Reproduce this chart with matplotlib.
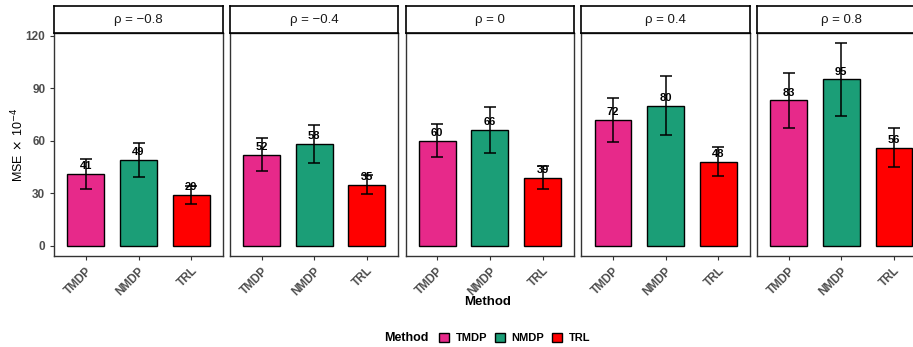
import numpy as np
import matplotlib
matplotlib.use("Agg")
import matplotlib.pyplot as plt
from matplotlib.patches import Patch

plt.rcParams['font.family'] = ['Liberation Sans', 'DejaVu Sans']

methods = ["TMDP", "NMDP", "TRL"]
rho_labels = ["ρ = −0.8", "ρ = −0.4", "ρ = 0", "ρ = 0.4", "ρ = 0.8"]
colors = ["#E7298A", "#1B9E77", "#FF0000"]

# MSE x 1e-4, one row per rho panel
mse = np.array([
    [41, 49, 29],
    [52, 58, 35],
    [60, 66, 39],
    [72, 80, 48],
    [83, 95, 56],
])
err = np.array([
    [8.3, 9.6, 5.0],
    [9.4, 11.0, 5.5],
    [9.5, 13.0, 6.5],
    [12.5, 17.0, 8.3],
    [15.5, 21.0, 11.0],
])

W, H = 913, 347
fig = plt.figure(figsize=(W / 100, H / 100), dpi=100)

def px(x0, y0, x1, y1):
    return [x0 / W, 1 - y1 / H, (x1 - x0) / W, (y1 - y0) / H]

tick_col = "#4D4D4D"
pw, gap = 168.4, 7.3
for i in range(5):
    x0 = 54.3 + i * (pw + gap)
    ax = fig.add_axes(px(x0, 33.3, x0 + pw, 256))
    xs = np.arange(1, 4)
    ax.bar(xs, mse[i], width=0.7, color=colors, edgecolor="black", linewidth=1.0, zorder=2)
    ax.errorbar(xs, mse[i], yerr=err[i], fmt="none", ecolor="black",
                elinewidth=1.1, capsize=4.6, capthick=1.1, zorder=3)
    for x, v in zip(xs, mse[i]):
        ax.annotate(str(v), (x, v), xytext=(0, 2), textcoords="offset points",
                    ha="center", va="bottom", fontsize=8, fontweight="bold", zorder=4)
    ax.set_xlim(0.4, 3.6)
    ax.set_ylim(-5.8, 121.3)
    ax.set_yticks([0, 30, 60, 90, 120])
    ax.set_xticks(xs)
    ax.set_xticklabels(methods, rotation=45, ha="right", va="top",
                       rotation_mode="anchor", fontsize=8.5, fontweight="bold", color=tick_col)
    ax.tick_params(axis="both", length=3, width=0.8, color="#333333")
    if i == 0:
        ax.set_yticklabels([str(t) for t in [0, 30, 60, 90, 120]], fontsize=8.5,
                           fontweight="bold", color=tick_col)
    else:
        ax.tick_params(axis="y", left=False, labelleft=False)
    for s in ax.spines.values():
        s.set_color("#333333")
        s.set_linewidth(1.0)
    # facet strip
    sax = fig.add_axes(px(x0, 6, x0 + pw, 33.3))
    sax.set_xticks([])
    sax.set_yticks([])
    for s in sax.spines.values():
        s.set_color("black")
        s.set_linewidth(1.2)
    sax.text(0.5, 0.5, rho_labels[i], ha="center", va="center", fontsize=9.5,
             color="#1A1A1A", transform=sax.transAxes)

fig.text(18 / W, 1 - 145 / H, r"MSE$\,\times\,$10$^{-4}$", rotation=90, ha="center",
         va="center", fontsize=9)
fig.text(488 / W, 1 - 302 / H, "Method", ha="center", va="center", fontsize=9.5,
         fontweight="bold")

fig.text(406 / W, 1 - 338 / H, "Method", ha="center", va="center", fontsize=9,
         fontweight="bold")
handles = [Patch(facecolor=c, edgecolor="black", linewidth=1.0) for c in colors]
leg = fig.legend(handles, methods, loc="center left", bbox_to_anchor=(431 / W, 1 - 338 / H),
                 ncol=3, frameon=False, handlelength=0.9, handleheight=0.9,
                 handletextpad=0.6, columnspacing=0.7, borderpad=0.2,
                 prop={"weight": "bold", "size": 8})

fig.savefig("out.png", dpi=100)
